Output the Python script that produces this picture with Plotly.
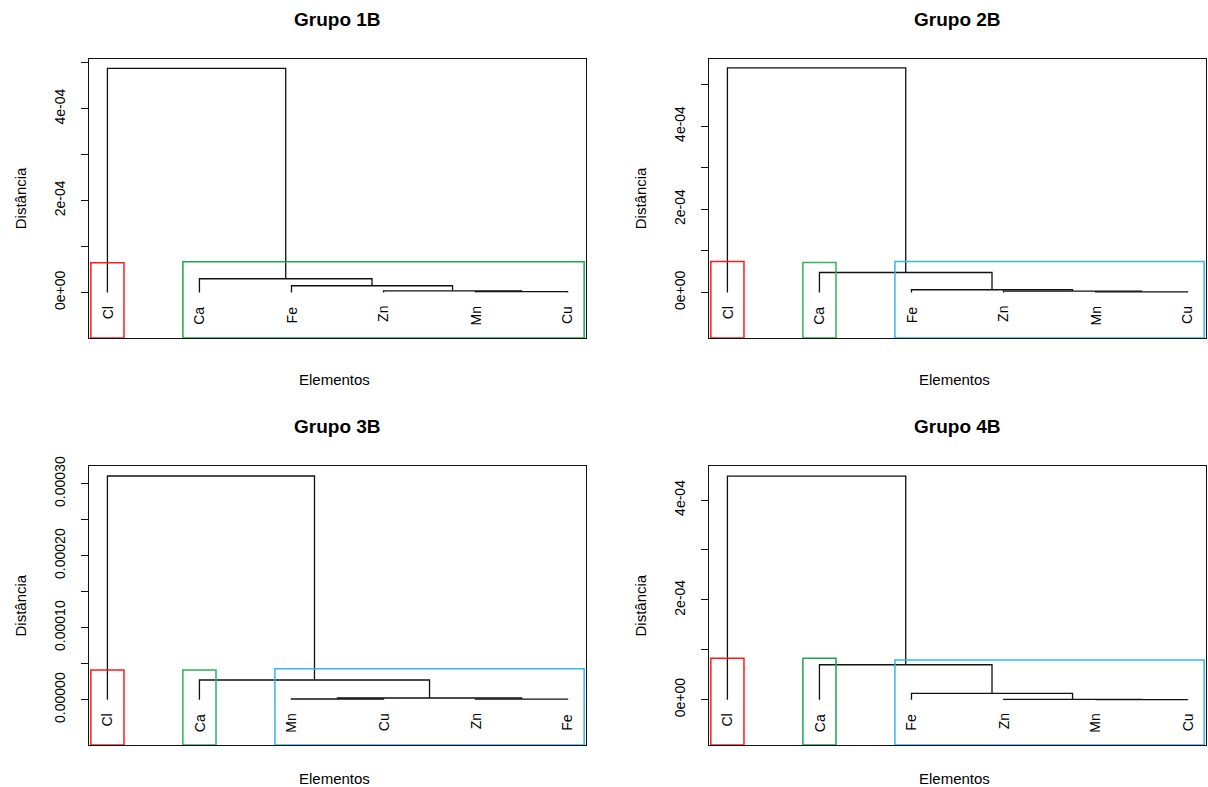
import plotly.graph_objects as go

# ---------------- data ----------------
titles = ["Grupo 1B", "Grupo 2B", "Grupo 3B", "Grupo 4B"]
x_title = "Elementos"
y_title = "Distância"

# Grupo 1B
leaves_1 = ["Cl", "Ca", "Fe", "Zn", "Mn", "Cu"]
merges_1 = [("Mn", "Cu"), ("Zn", 1), ("Fe", 2), ("Ca", 3), ("Cl", 4)]
heights_1 = [1.5e-6, 3.5e-6, 1.45e-5, 2.97e-5, 4.88e-4]
clusters_1 = [["Cl"], ["Ca", "Fe", "Zn", "Mn", "Cu"]]
rect_tops_1 = [6.43e-5, 6.65e-5]
rect_colors_1 = ["#FF1A1A", "#1CA54E"]
yticks_1 = [0, 1e-4, 2e-4, 3e-4, 4e-4, 5e-4]
yticktext_1 = ["0e+00", "", "2e-04", "", "4e-04", ""]
yrange_1 = [-0.993e-4, 5.093e-4]

# Grupo 2B
leaves_2 = ["Cl", "Ca", "Fe", "Zn", "Mn", "Cu"]
merges_2 = [("Mn", "Cu"), ("Zn", 1), ("Fe", 2), ("Ca", 3), ("Cl", 4)]
heights_2 = [1.4e-6, 3.2e-6, 6.4e-6, 4.78e-5, 5.40e-4]
clusters_2 = [["Cl"], ["Ca"], ["Fe", "Zn", "Mn", "Cu"]]
rect_tops_2 = [7.42e-5, 7.18e-5, 7.42e-5]
rect_colors_2 = ["#FF1A1A", "#2DB35A", "#35B6EC"]
yticks_2 = [0, 1e-4, 2e-4, 3e-4, 4e-4, 5e-4]
yticktext_2 = ["0e+00", "", "2e-04", "", "4e-04", ""]
yrange_2 = [-1.097e-4, 5.626e-4]

# Grupo 3B
leaves_3 = ["Cl", "Ca", "Mn", "Cu", "Zn", "Fe"]
merges_3 = [("Mn", "Cu"), ("Zn", "Fe"), (1, 2), ("Ca", 3), ("Cl", 4)]
heights_3 = [1.0e-6, 0.9e-6, 2.4e-6, 2.74e-5, 3.107e-4]
clusters_3 = [["Cl"], ["Ca"], ["Mn", "Cu", "Zn", "Fe"]]
rect_tops_3 = [4.13e-5, 4.13e-5, 4.30e-5]
rect_colors_3 = ["#FF1A1A", "#2DB35A", "#35B6EC"]
yticks_3 = [0, 5e-5, 1e-4, 1.5e-4, 2e-4, 2.5e-4, 3e-4]
yticktext_3 = ["0.00000", "", "0.00010", "", "0.00020", "", "0.00030"]
yrange_3 = [-0.629e-4, 3.246e-4]

# Grupo 4B
leaves_4 = ["Cl", "Ca", "Fe", "Zn", "Mn", "Cu"]
merges_4 = [("Mn", "Cu"), ("Zn", 1), ("Fe", 2), ("Ca", 3), ("Cl", 4)]
heights_4 = [0.3e-6, 0.6e-6, 1.28e-5, 7.0e-5, 4.48e-4]
clusters_4 = [["Cl"], ["Ca"], ["Fe", "Zn", "Mn", "Cu"]]
rect_tops_4 = [8.3e-5, 8.3e-5, 7.96e-5]
rect_colors_4 = ["#FF1A1A", "#1CA54E", "#35B6EC"]
yticks_4 = [0, 1e-4, 2e-4, 3e-4, 4e-4]
yticktext_4 = ["0e+00", "", "2e-04", "", "4e-04"]
yrange_4 = [-0.908e-4, 4.683e-4]

panels = [
    (leaves_1, merges_1, heights_1, clusters_1, rect_tops_1, rect_colors_1, yticks_1, yticktext_1, yrange_1),
    (leaves_2, merges_2, heights_2, clusters_2, rect_tops_2, rect_colors_2, yticks_2, yticktext_2, yrange_2),
    (leaves_3, merges_3, heights_3, clusters_3, rect_tops_3, rect_colors_3, yticks_3, yticktext_3, yrange_3),
    (leaves_4, merges_4, heights_4, clusters_4, rect_tops_4, rect_colors_4, yticks_4, yticktext_4, yrange_4),
]

# ---------------- layout constants ----------------
W, H = 1208, 787
FONT = "Liberation Sans, Arial, Helvetica, sans-serif"
XRANGE = [0.8, 6.2]
RECT_PAD = 0.18

# plot boxes in pixels: (left, right, top, bottom, title_y, xlabel_y)
boxes = [(89, 586, 58.5, 338, 20, 379), (709, 1206, 58.5, 338, 20, 379),
         (89, 586, 466, 745, 427, 778), (709, 1206, 466, 745, 427, 778)]


def px_x(p):
    return p / W


def px_y(p):
    return 1 - p / H


def dendro_segments(leaves, merges, heights):
    pos = {lab: i + 1 for i, lab in enumerate(leaves)}
    node_x, node_h = [], []
    xs, ys = [], []

    def get(ref):
        if isinstance(ref, str):
            return pos[ref], 0.0
        return node_x[ref - 1], node_h[ref - 1]

    for (a, b), h in zip(merges, heights):
        xa, ha = get(a)
        xb, hb = get(b)
        xs += [xa, xa, xb, xb, None]
        ys += [ha, h, h, hb, None]
        node_x.append((xa + xb) / 2)
        node_h.append(h)
    return xs, ys, pos


fig = go.Figure()
annotations = []

for k, (leaves, merges, heights, clusters, tops, colors, ytv, ytt, yr) in enumerate(panels):
    i = k + 1
    xa = "x" if i == 1 else f"x{i}"
    ya = "y" if i == 1 else f"y{i}"
    xs, ys, pos = dendro_segments(leaves, merges, heights)
    fig.add_trace(go.Scatter(x=xs, y=ys, mode="lines", xaxis=xa, yaxis=ya,
                             line=dict(color="#111111", width=1.3),
                             hoverinfo="skip", showlegend=False))
    for members, top, col in zip(clusters, tops, colors):
        idx = [pos[m] for m in members]
        x0 = max(min(idx) - RECT_PAD, XRANGE[0])
        x1 = min(max(idx) + RECT_PAD, XRANGE[1])
        y0 = yr[0]
        fig.add_trace(go.Scatter(x=[x0, x1, x1, x0, x0], y=[y0, y0, top, top, y0],
                                 mode="lines", xaxis=xa, yaxis=ya,
                                 line=dict(color=col, width=1.5),
                                 hoverinfo="skip", showlegend=False))
    # leaf labels
    for lab, p in pos.items():
        annotations.append(dict(x=p, y=0, xref=xa, yref=ya, text=lab, showarrow=False,
                                textangle=-90, xanchor="center", yanchor="top", yshift=-12,
                                font=dict(family=FONT, size=14, color="#000000")))

    left, right, top_px, bot_px, title_px, xlab_px = boxes[k]
    ax_common = dict(showgrid=False, zeroline=False, showline=True, mirror=True,
                     linecolor="#111111", linewidth=1.3)
    fig.layout[f"xaxis{'' if i == 1 else i}"] = dict(
        domain=[px_x(left), px_x(right)], range=XRANGE, anchor=ya,
        showticklabels=False, ticks="", **ax_common)
    fig.layout[f"yaxis{'' if i == 1 else i}"] = dict(
        domain=[px_y(bot_px), px_y(top_px)], range=yr, anchor=xa,
        tickmode="array", tickvals=ytv, ticktext=ytt, ticks="outside", ticklen=7,
        tickwidth=1.2, tickcolor="#111111", tickangle=-90, ticklabelstandoff=10,
        tickfont=dict(family=FONT, size=14, color="#000000"), **ax_common)

    cx = (left + right) / 2
    cy = (top_px + bot_px) / 2
    # title
    annotations.append(dict(x=px_x(cx), y=px_y(title_px), xref="paper", yref="paper",
                            text=f"<b>{titles[k]}</b>", showarrow=False,
                            xanchor="center", yanchor="middle",
                            font=dict(family=FONT, size=19, color="#000000")))
    # x title
    annotations.append(dict(x=px_x(cx - 3), y=px_y(xlab_px), xref="paper", yref="paper",
                            text=x_title, showarrow=False, xanchor="center", yanchor="middle",
                            font=dict(family=FONT, size=15, color="#000000")))
    # y title
    annotations.append(dict(x=px_x(left - 69), y=px_y(cy), xref="paper", yref="paper",
                            text=y_title, showarrow=False, textangle=-90,
                            xanchor="center", yanchor="middle",
                            font=dict(family=FONT, size=15, color="#000000")))

fig.update_layout(width=W, height=H,
                  margin=dict(l=0, r=0, t=0, b=0, pad=0, autoexpand=False),
                  paper_bgcolor="white", plot_bgcolor="white",
                  annotations=annotations, showlegend=False)

fig.write_html("out.html", config={"displayModeBar": False},
               post_script="document.body.style.margin='0px';document.body.style.padding='0px';document.body.style.overflow='hidden';")
